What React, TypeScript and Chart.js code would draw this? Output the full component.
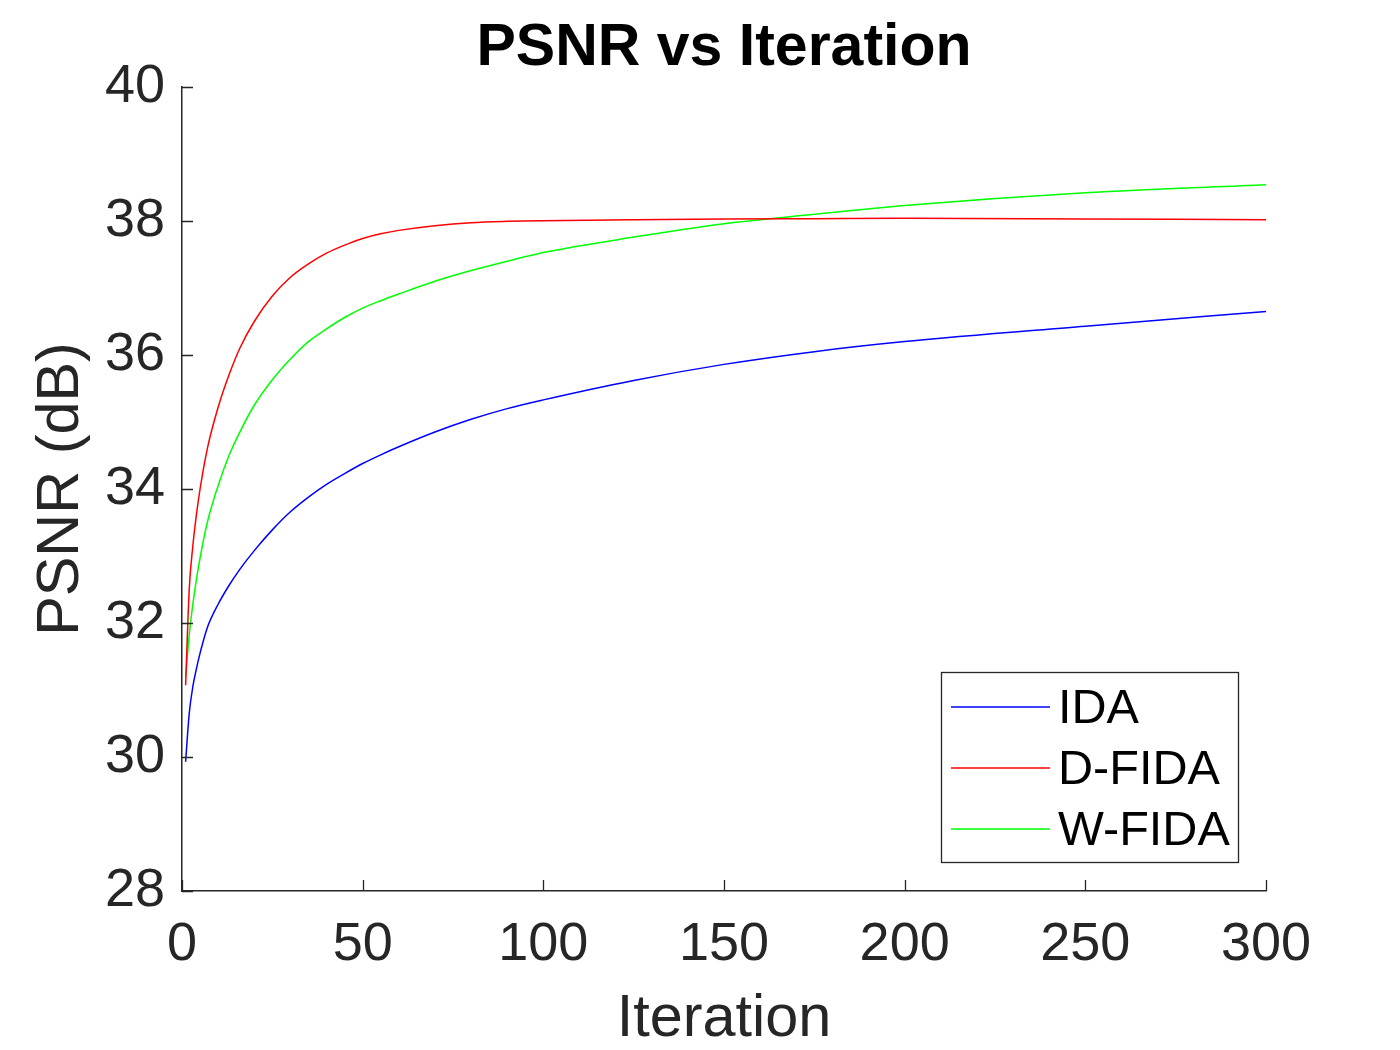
import React, { useEffect, useRef } from 'react';
import { Chart, registerables } from 'chart.js';

Chart.register(...registerables);

const iterations = [1, 2, 3, 4, 5, 7, 10, 13, 16, 20, 25, 30, 35, 40, 45, 50, 55, 60, 70, 80, 90, 100, 125, 150, 175, 200, 250, 300];
const idaValues = [29.93, 30.65, 31.05, 31.32, 31.55, 31.93, 32.28, 32.56, 32.8, 33.08, 33.39, 33.66, 33.88, 34.07, 34.23, 34.38, 34.51, 34.63, 34.85, 35.04, 35.2, 35.33, 35.62, 35.86, 36.05, 36.2, 36.43, 36.65];
const dfidaValues = [31.07, 32.5, 33.15, 33.62, 34.0, 34.6, 35.22, 35.7, 36.1, 36.5, 36.88, 37.16, 37.36, 37.52, 37.64, 37.74, 37.81, 37.86, 37.93, 37.975, 37.995, 38.005, 38.02, 38.03, 38.035, 38.04, 38.03, 38.02];
const wfidaValues = [31.2, 31.82, 32.28, 32.65, 32.97, 33.5, 34.05, 34.5, 34.85, 35.25, 35.63, 35.94, 36.2, 36.39, 36.56, 36.7, 36.81, 36.91, 37.1, 37.26, 37.4, 37.53, 37.76, 37.96, 38.1, 38.23, 38.42, 38.54];

const seriesNames = ['IDA', 'D-FIDA', 'W-FIDA'];
const seriesColors = ['#0000ff', '#ff0000', '#00ff00'];
const xTickValues = [0, 50, 100, 150, 200, 250, 300];
const yTickValues = [28, 30, 32, 34, 36, 38, 40];

const FONT = '"Liberation Sans", Arial, Helvetica, sans-serif';
const AXIS_COLOR = '#262626';

const overlayPlugin = {
  id: 'matlabOverlay',
  afterDatasetsDraw(chart: any) {
    const { ctx, chartArea, scales } = chart;
    const xs = scales.x;
    const ys = scales.y;
    ctx.save();
    // inward tick marks
    ctx.strokeStyle = AXIS_COLOR;
    ctx.lineWidth = 1.3;
    ctx.beginPath();
    xTickValues.forEach((v) => {
      const px = Math.round(xs.getPixelForValue(v)) + 0.5;
      ctx.moveTo(px, chartArea.bottom);
      ctx.lineTo(px, chartArea.bottom - 11);
    });
    yTickValues.forEach((v) => {
      const py = Math.round(ys.getPixelForValue(v)) + 0.5;
      ctx.moveTo(chartArea.left, py);
      ctx.lineTo(chartArea.left + 11, py);
    });
    ctx.stroke();

    // title
    ctx.fillStyle = '#000000';
    ctx.font = `bold 59px ${FONT}`;
    ctx.textAlign = 'center';
    ctx.textBaseline = 'middle';
    ctx.fillText('PSNR vs Iteration', (chartArea.left + chartArea.right) / 2, 49);

    // legend box
    const bx = 941.5, by = 672.5, bw = 297, bh = 190;
    ctx.fillStyle = '#ffffff';
    ctx.fillRect(bx, by, bw, bh);
    ctx.strokeStyle = AXIS_COLOR;
    ctx.lineWidth = 1.3;
    ctx.strokeRect(bx, by, bw, bh);
    const rowY = [707, 768, 829];
    chart.data.datasets.forEach((ds: any, i: number) => {
      ctx.strokeStyle = ds.borderColor;
      ctx.lineWidth = 1.5;
      ctx.beginPath();
      ctx.moveTo(951, rowY[i]);
      ctx.lineTo(1050, rowY[i]);
      ctx.stroke();
      ctx.fillStyle = '#000000';
      ctx.font = `48.6px ${FONT}`;
      ctx.textAlign = 'left';
      ctx.textBaseline = 'middle';
      ctx.fillText(ds.label, 1058, rowY[i] + 3);
    });
    ctx.restore();
  },
};

export default function App() {
  const canvasRef = useRef<HTMLCanvasElement | null>(null);

  useEffect(() => {
    if (!canvasRef.current) return;
    const makeData = (vals: number[]) => iterations.map((x, i) => ({ x, y: vals[i] }));
    const allValues = [idaValues, dfidaValues, wfidaValues];
    const chart = new Chart(canvasRef.current, {
      type: 'line',
      data: {
        datasets: allValues.map((vals, i) => ({
          label: seriesNames[i],
          data: makeData(vals),
          borderColor: seriesColors[i],
          backgroundColor: seriesColors[i],
          borderWidth: 1.5,
          pointRadius: 0,
          fill: false,
          cubicInterpolationMode: 'monotone' as const,
        })),
      },
      options: {
        animation: false,
        responsive: false,
        devicePixelRatio: 1,
        layout: { padding: { left: 0, right: 134, top: 87, bottom: 0 } },
        plugins: {
          legend: { display: false },
          title: { display: false },
          tooltip: { enabled: false },
        },
        scales: {
          x: {
            type: 'linear',
            min: 0,
            max: 300,
            afterFit: (s: any) => { s.height = 159; },
            afterBuildTicks: (s: any) => { s.ticks = xTickValues.map((v) => ({ value: v })); },
            ticks: {
              color: AXIS_COLOR,
              font: { family: FONT, size: 54, lineHeight: 1.2 },
              padding: 22,
              maxRotation: 0,
              autoSkip: false,
            },
            grid: { drawOnChartArea: false, drawTicks: false },
            border: { color: AXIS_COLOR, width: 1.5 },
            title: {
              display: true,
              text: 'Iteration',
              color: AXIS_COLOR,
              font: { family: FONT, size: 59.4, lineHeight: 1 },
              padding: { top: 0, bottom: 1 },
            },
          },
          y: {
            type: 'linear',
            min: 28,
            max: 40,
            afterFit: (s: any) => { s.width = 182; },
            afterBuildTicks: (s: any) => { s.ticks = yTickValues.map((v) => ({ value: v })); },
            ticks: {
              color: AXIS_COLOR,
              font: { family: FONT, size: 54, lineHeight: 1.2 },
              padding: 17,
              autoSkip: false,
            },
            grid: { drawOnChartArea: false, drawTicks: false },
            border: { color: AXIS_COLOR, width: 1.5 },
            title: {
              display: true,
              text: 'PSNR (dB)',
              color: AXIS_COLOR,
              font: { family: FONT, size: 59.4, lineHeight: 1 },
              padding: { top: 32, bottom: 0 },
            },
          },
        },
      },
      plugins: [overlayPlugin],
    });
    return () => chart.destroy();
  }, []);

  return (
    <div style={{ position: 'fixed', left: 0, top: 0, width: 1400, height: 1050, background: '#ffffff' }}>
      <canvas ref={canvasRef} width={1400} height={1050} style={{ width: 1400, height: 1050, display: 'block' }} />
    </div>
  );
}
